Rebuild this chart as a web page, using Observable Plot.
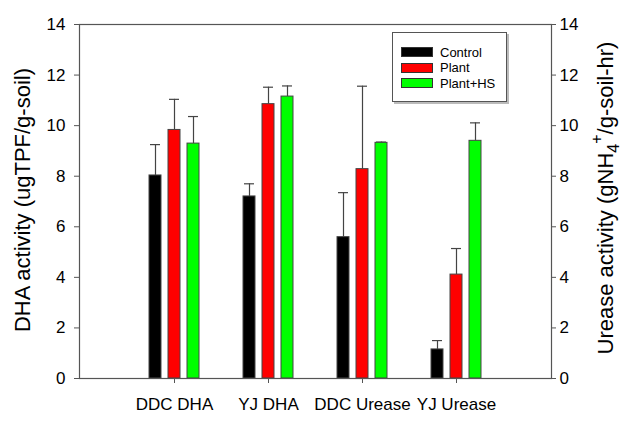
<!DOCTYPE html>
<html>
<head>
<meta charset="utf-8">
<script src="https://cdn.jsdelivr.net/npm/d3@7"></script>
<script src="https://cdn.jsdelivr.net/npm/@observablehq/plot@0.6"></script>
<style>
  html, body { margin: 0; padding: 0; background: #fff; }
  #wrap { position: relative; width: 638px; height: 423px; font-family: "Liberation Sans", Arial, sans-serif; }
  #legend { position: absolute; left: 392px; top: 32px; width: 115px; height: 70px; border: 1px solid #555;
            box-shadow: 2px 2px 0 #bbb; background: #fff; box-sizing: border-box; font-size: 13px; color: #000; }
  .row { position: absolute; left: 8px; height: 14px; display: flex; align-items: center; }
  .sw { width: 30px; height: 8px; border: 1px solid #333; margin-right: 7px; }
</style>
</head>
<body>
<div id="wrap"></div>
<script>
const categories = ["DDC DHA", "YJ DHA", "DDC Urease", "YJ Urease"];
const series = ["Control", "Plant", "Plant+HS"];
const control = [8.03, 7.20, 5.59, 1.15];
const controlErr = [1.22, 0.50, 1.76, 0.35];
const plant = [9.83, 10.85, 8.28, 4.11];
const plantErr = [1.21, 0.67, 3.28, 1.03];
const plantHS = [9.29, 11.15, 9.32, 9.40];
const plantHSErr = [1.07, 0.42, 0.03, 0.71];
const yTicks = [0, 2, 4, 6, 8, 10, 12, 14];

const colors = ["#000000", "#ff0000", "#00ff00"];
const offsets = [-19, 0, 19];

const valueLists = [control, plant, plantHS];
const errLists = [controlErr, plantErr, plantHSErr];
const rows = [];
series.forEach((s, si) => categories.forEach((c, ci) => rows.push({cat: c, series: s, value: valueLists[si][ci], err: errLists[si][ci]})));

const marks = [];
series.forEach((s, si) => {
  const data = rows.filter(d => d.series === s);
  marks.push(Plot.ruleX(data, {x: "cat", y1: "value", y2: d => d.value + d.err, dx: offsets[si], stroke: "#444", strokeWidth: 1.2}));
  marks.push(Plot.tickY(data, {x: "cat", y: d => d.value + d.err, dx: offsets[si], stroke: "#444", strokeWidth: 1.2, insetLeft: 1, insetRight: 1}));
  marks.push(Plot.barY(data, {x: "cat", y: "value", fill: "series", stroke: "#444", strokeWidth: 1, dx: offsets[si]}));
});

const chart = Plot.plot({
  width: 638,
  height: 423,
  marginLeft: 79,
  marginRight: 87,
  marginTop: 24,
  marginBottom: 45,
  style: {fontFamily: "'Liberation Sans', Arial, sans-serif", fontSize: "17px", color: "#000", background: "#fff"},
  x: {type: "band", domain: categories, paddingInner: 0.873, paddingOuter: 0.9365},
  y: {domain: [0, 14]},
  color: {domain: series, range: colors},
  marks: [
    ...marks,
    Plot.frame({stroke: "#555", strokeWidth: 1.2}),
    Plot.axisY({anchor: "left", ticks: yTicks, tickSize: 5, tickPadding: 9, label: null, stroke: "#555", fontSize: 17}),
    Plot.axisY({anchor: "right", ticks: yTicks, tickSize: 4, tickPadding: 4, label: null, stroke: "#555", fontSize: 17}),
    Plot.axisX({anchor: "bottom", tickSize: 5, tickPadding: 14, label: null, stroke: "#555", fontSize: 17})
  ]
});

document.getElementById("wrap").appendChild(chart);

const svg = d3.select(chart);
svg.append("text")
  .attr("transform", "translate(30,200) rotate(-90)")
  .attr("text-anchor", "middle")
  .attr("font-size", 22)
  .attr("fill", "#000")
  .text("DHA activity (ugTPF/g-soil)");

const rt = svg.append("text")
  .attr("transform", "translate(613,198) rotate(-90)")
  .attr("text-anchor", "middle")
  .attr("font-size", 22)
  .attr("fill", "#000");
rt.append("tspan").text("Urease activity (gNH");
rt.append("tspan").attr("dy", 6).attr("font-size", 16).text("4");
rt.append("tspan").attr("dy", -17).attr("font-size", 16).text("+");
rt.append("tspan").attr("dy", 11).text("/g-soil-hr)");

const legend = document.createElement("div");
legend.id = "legend";
series.forEach((s, i) => {
  const row = document.createElement("div");
  row.className = "row";
  row.style.top = (12 + i * 15.7) + "px";
  const sw = document.createElement("div");
  sw.className = "sw";
  sw.style.background = colors[i];
  const lab = document.createElement("span");
  lab.textContent = s;
  row.appendChild(sw);
  row.appendChild(lab);
  legend.appendChild(row);
});
document.getElementById("wrap").appendChild(legend);
</script>
</body>
</html>
